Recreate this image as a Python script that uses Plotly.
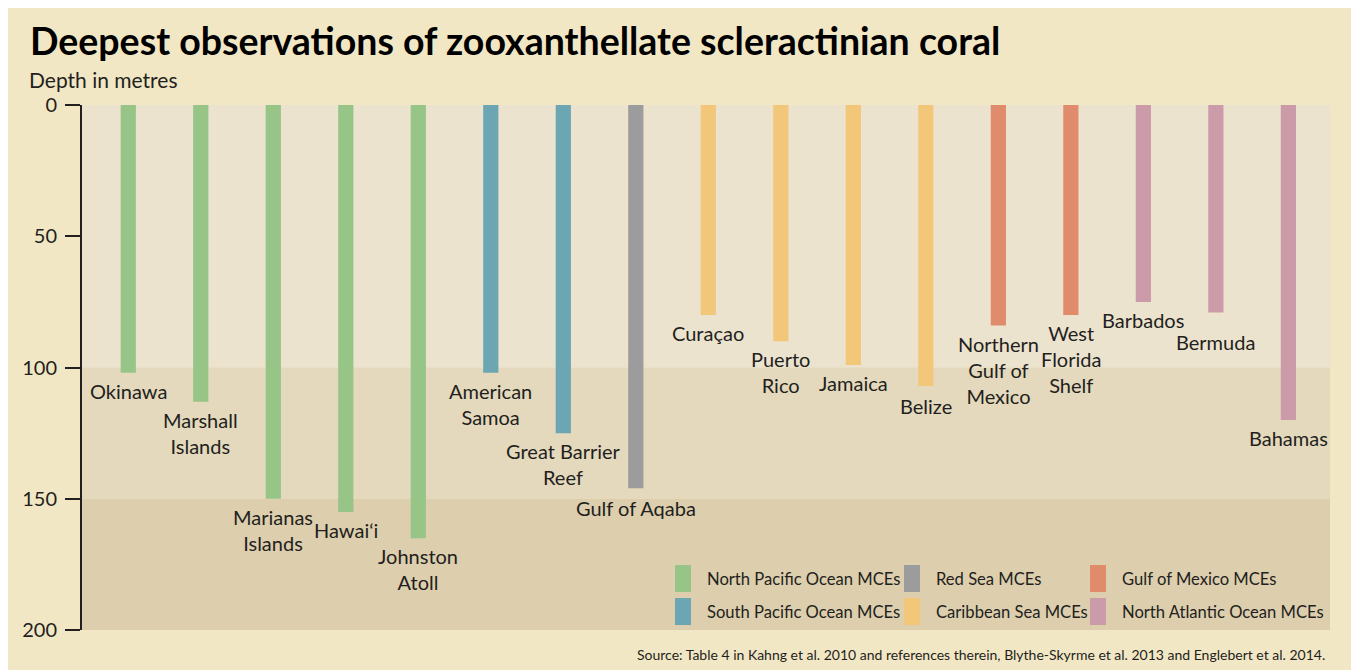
import plotly.graph_objects as go

# data
sites = ["Okinawa", "Marshall Islands", "Marianas Islands", "Hawai‘i", "Johnston Atoll",
         "American Samoa", "Great Barrier Reef", "Gulf of Aqaba",
         "Curaçao", "Puerto Rico", "Jamaica", "Belize",
         "Northern Gulf of Mexico", "West Florida Shelf",
         "Barbados", "Bermuda", "Bahamas"]
labels = ["Okinawa", "Marshall<br>Islands", "Marianas<br>Islands", "Hawai‘i", "Johnston<br>Atoll",
          "American<br>Samoa", "Great Barrier<br>Reef", "Gulf of Aqaba",
          "Curaçao", "Puerto<br>Rico", "Jamaica", "Belize",
          "Northern<br>Gulf of<br>Mexico", "West<br>Florida<br>Shelf",
          "Barbados", "Bermuda", "Bahamas"]
depths = [102, 113, 150, 155, 165, 102, 125, 146, 80, 90, 99, 107, 84, 80, 75, 79, 120]
regions = ["North Pacific Ocean MCEs", "North Pacific Ocean MCEs", "North Pacific Ocean MCEs",
           "North Pacific Ocean MCEs", "North Pacific Ocean MCEs",
           "South Pacific Ocean MCEs", "South Pacific Ocean MCEs",
           "Red Sea MCEs",
           "Caribbean Sea MCEs", "Caribbean Sea MCEs", "Caribbean Sea MCEs", "Caribbean Sea MCEs",
           "Gulf of Mexico MCEs", "Gulf of Mexico MCEs",
           "North Atlantic Ocean MCEs", "North Atlantic Ocean MCEs", "North Atlantic Ocean MCEs"]
region_order = ["North Pacific Ocean MCEs", "South Pacific Ocean MCEs", "Red Sea MCEs",
                "Caribbean Sea MCEs", "Gulf of Mexico MCEs", "North Atlantic Ocean MCEs"]
depth_ticks = [0, 50, 100, 150, 200]

colors = {
    "North Pacific Ocean MCEs": "#97c487",
    "South Pacific Ocean MCEs": "#6ba6b2",
    "Red Sea MCEs": "#9c9c9c",
    "Caribbean Sea MCEs": "#f3c77a",
    "Gulf of Mexico MCEs": "#e08c6c",
    "North Atlantic Ocean MCEs": "#cc9baa",
}
# a couple of labels sit further below their bar
label_nudge = {"Bermuda": -12, "Gulf of Aqaba": -2, "Belize": -2}

FONT = "Lato, Roboto, sans-serif"
INK = "#231f20"

# the page puts the figure 8px in from the top-left corner of the window
OX, OY = 8, 8
W, H = 1346, 662
# plot area in window pixels
PX0, PX1, PY0, PY1 = 82, 1330, 105, 630
L, R, T, B = PX0 - OX, W - (PX1 - OX), PY0 - OY, H - (PY1 - OY)
PW, PH = PX1 - PX0, PY1 - PY0


def px(x):
    return (x - PX0) / PW


def py(y):
    return (PY1 - y) / PH


fig = go.Figure()

for reg in region_order:
    xs = [s for s, r in zip(sites, regions) if r == reg]
    ys = [d for d, r in zip(depths, regions) if r == reg]
    fig.add_trace(go.Bar(x=xs, y=ys, name=reg, marker_color=colors[reg],
                         marker_line_width=0, width=0.21, showlegend=False))

# site labels under each bar
for s, lab, d in zip(sites, labels, depths):
    fig.add_annotation(x=s, y=d, text=lab, showarrow=False, yanchor="top",
                       yshift=-4 + label_nudge.get(s, 0), align="center",
                       font=dict(family=FONT, size=20, color=INK))

shapes = []
# depth bands
for y0, y1, c in [(0, 100, "#ece3cf"), (100, 150, "#e4d9bd"), (150, 200, "#ddcead")]:
    shapes.append(dict(type="rect", xref="paper", yref="y", x0=0, x1=1, y0=y0, y1=y1,
                       fillcolor=c, line_width=0, layer="below"))

# legend, 3 columns x 2 rows
leg_cols = [675, 904, 1090]
leg_rows = [565, 598]
leg_layout = [region_order[0], region_order[2], region_order[4],
              region_order[1], region_order[3], region_order[5]]
for i, reg in enumerate(leg_layout):
    cx = leg_cols[i % 3]
    ry = leg_rows[i // 3]
    shapes.append(dict(type="rect", xref="paper", yref="paper", x0=px(cx), x1=px(cx + 16),
                       y0=py(ry + 27), y1=py(ry), fillcolor=colors[reg], line_width=0))
    fig.add_annotation(xref="paper", yref="paper", x=px(cx + 30), y=py(ry + 14),
                       xanchor="left", yanchor="middle", showarrow=False, text=reg,
                       font=dict(family=FONT, size=16.6, color=INK))

fig.add_annotation(xref="paper", yref="paper", x=px(28), y=py(41), xanchor="left",
                   yanchor="middle", showarrow=False,
                   text="<b>Deepest observations of zooxanthellate scleractinian coral</b>",
                   font=dict(family=FONT, size=37.5, color="#000000"))
fig.add_annotation(xref="paper", yref="paper", x=px(27), y=py(80), xanchor="left",
                   yanchor="middle", showarrow=False, text="Depth in metres",
                   font=dict(family=FONT, size=21, color=INK))
fig.add_annotation(xref="paper", yref="paper", x=px(1327), y=py(654), xanchor="right",
                   yanchor="middle", showarrow=False,
                   text="Source: Table 4 in Kahng et al. 2010 and references therein, "
                        "Blythe-Skyrme et al. 2013 and Englebert et al. 2014.",
                   font=dict(family=FONT, size=14, color=INK))

fig.update_layout(
    width=W, height=H,
    margin=dict(l=L, r=R, t=T, b=B),
    paper_bgcolor="#f2e7c5",
    plot_bgcolor="rgba(0,0,0,0)",
    barmode="overlay",
    shapes=shapes,
    xaxis=dict(categoryorder="array", categoryarray=sites, range=[-0.638, 16.574],
               showticklabels=False, showgrid=False, zeroline=False, showline=False,
               ticks=""),
    yaxis=dict(range=[200, 0], tickvals=depth_ticks, ticks="outside", ticklen=15,
               tickwidth=1.5, tickcolor=INK, showline=True, linewidth=2, linecolor=INK,
               showgrid=False, zeroline=False, ticklabelstandoff=4,
               tickfont=dict(family=FONT, size=20, color=INK)),
)

fig.write_html("out.html")
